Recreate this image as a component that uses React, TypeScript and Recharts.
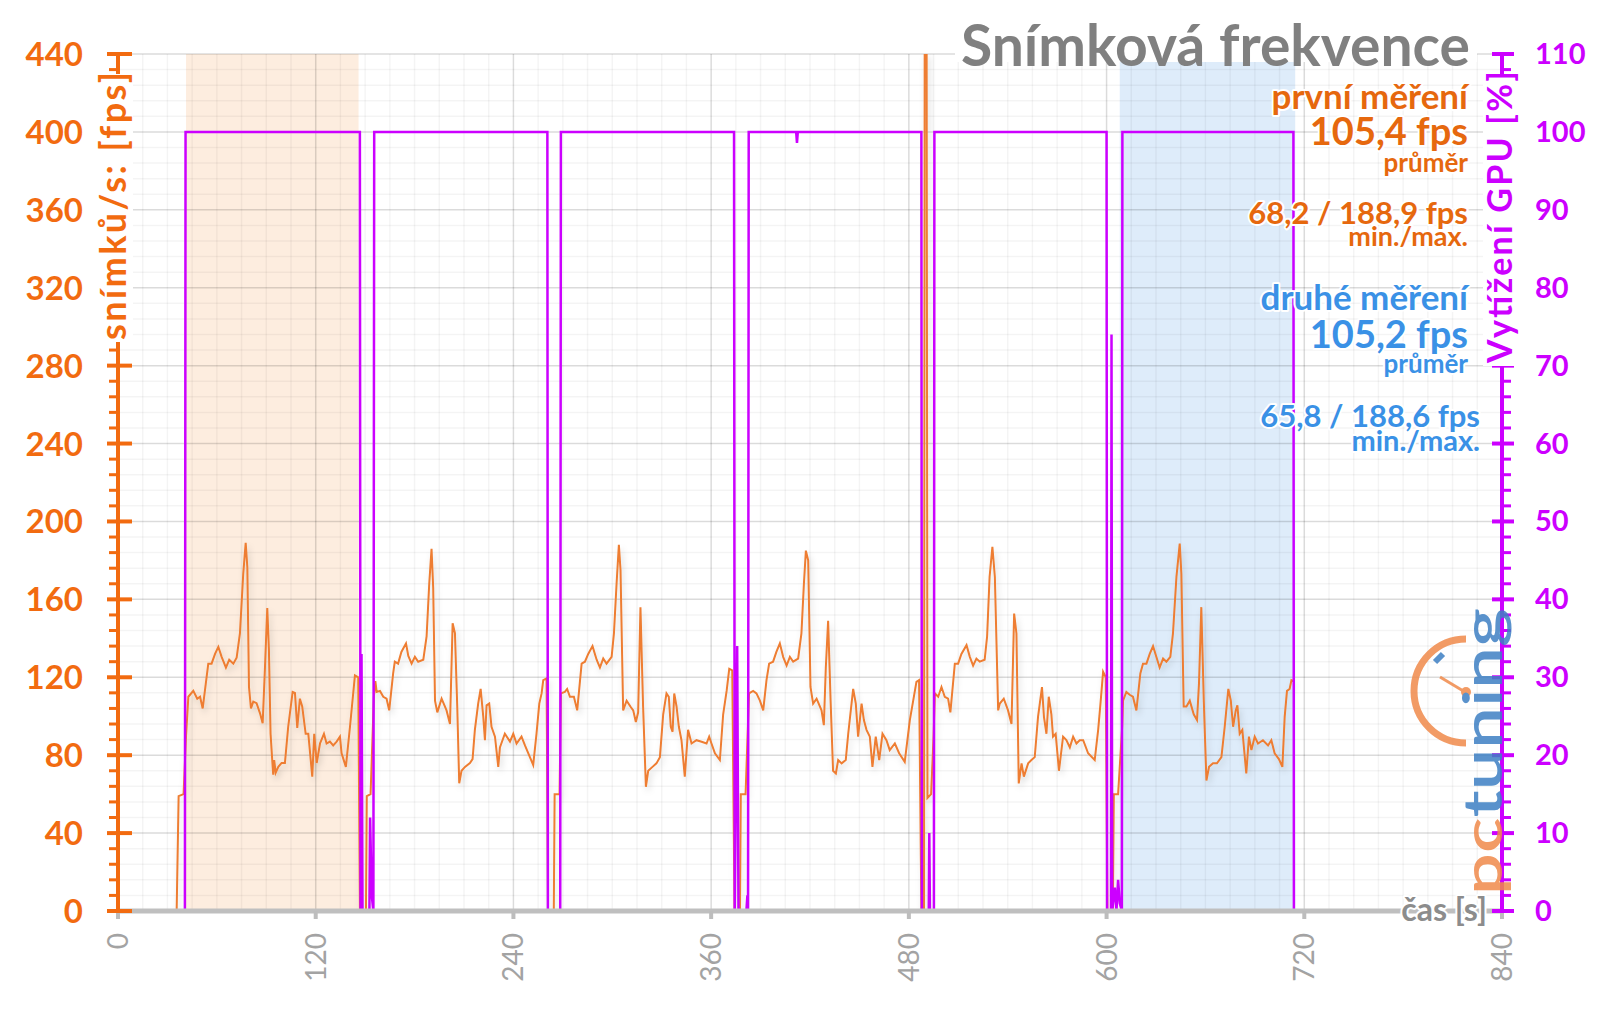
import { Line, LineChart, ReferenceArea, ReferenceLine, XAxis, YAxis } from "recharts";

const FONT = "Lato, 'Open Sans', sans-serif";
const FPS_COLOR = "#EE7D31";
const GPU_COLOR = "#CC00FF";
const AXIS_ORANGE = "#F26B10";
const TEXT_ORANGE = "#E6680E";
const TEXT_BLUE = "#3A91E6";
const GRAY_TEXT = "#8C8C8C";

// fps over time: [time s, fps]
const idleStart: [number, number][] = [[0, 0], [35.6, 0], [36.8, 59], [39.8, 60], [41.3, 90]];
const run1: [number, number][] = [
  [42.7, 110], [45.7, 113], [48.1, 109], [49.8, 110], [51.4, 104], [54.8, 127], [56.8, 127], [58.9, 132],
  [60.9, 135.6], [62.9, 130.5], [65.5, 125], [67.5, 129], [70, 127], [72, 130], [74, 142.5], [76, 173],
  [77.5, 189], [78.5, 176.5], [79.5, 115], [80.7, 104], [82.1, 107.5], [84.1, 106.7], [86.2, 101.5],
  [87.8, 96.4], [89.2, 125], [90.6, 155.5], [91.6, 134], [92.6, 91], [93.6, 77.5], [94.2, 70], [94.8, 77.5],
  [95.7, 71], [97.3, 74], [99.3, 76], [101.3, 76], [103.3, 94.6], [106, 112.5], [107.4, 112], [108.8, 94],
  [110.4, 109], [111.8, 105], [113.9, 91], [115.5, 91], [117.9, 69], [119.1, 91], [120.6, 76], [122.6, 86],
  [125, 91], [126.6, 86], [128.6, 87], [130.6, 85], [132.7, 87], [134.7, 89.5], [135.7, 81], [138.3, 74],
  [140.8, 94.6], [143.8, 121], [145.8, 120],
];
const gap1: [number, number][] = [[146.8, 0], [150.5, 0], [151, 59], [153.3, 60], [155.3, 110]];
const run2: [number, number][] = [
  [156.2, 118], [157, 112.5], [159, 113], [161, 110], [163, 109], [164.6, 103], [167, 122], [168, 128],
  [170, 127], [172, 133], [174.8, 137.4], [176.2, 131], [178.2, 127], [180.2, 130.5], [182.2, 128],
  [185.3, 129], [187.3, 141], [188.9, 168], [190.3, 186], [191.3, 166], [192.4, 108], [193.8, 102],
  [196.4, 109], [199.4, 103], [201.5, 96], [203.1, 147.7], [204.5, 142.6], [205.9, 105], [207.1, 65.6],
  [208.5, 72], [210.6, 74], [213.6, 76], [215.2, 78], [216.6, 93], [218.6, 106.5], [220.1, 114],
  [221.7, 99.7], [222.7, 87.7], [223.7, 105.6], [225.3, 106.5], [226.7, 94.6], [228.8, 89.5], [230.8, 74],
  [231.8, 84], [234.8, 91], [237.9, 87], [239.9, 91], [241.9, 86], [244.9, 89.5], [247, 85], [250, 79],
  [252, 75], [254, 91], [255.7, 106.5], [257.1, 111.7], [258.1, 118.5], [260.1, 119.4],
];
const gap2: [number, number][] = [[261, 0], [264.5, 0], [265, 60], [268, 60]];
const run3: [number, number][] = [
  [268.8, 111.7], [271.2, 112.5], [272.6, 114], [274.3, 110], [276.7, 110], [278.7, 103], [281.4, 127],
  [283.4, 128], [285.4, 132], [288, 136], [290.5, 129], [292.5, 125], [294.5, 129.6], [296.5, 127],
  [299.6, 130.5], [301, 142.5], [302.6, 168], [304, 188], [305, 175], [306.6, 103], [308.7, 108], [311, 105],
  [312.7, 103], [314.3, 97], [315.7, 102], [317.1, 156], [318.7, 105], [320.4, 63.8], [321.8, 72],
  [324.4, 74], [326.8, 75.8], [328.9, 79], [330.9, 101], [332.9, 111.7], [334.3, 110], [335.5, 94.6],
  [336.6, 92], [337.6, 111.7], [339, 105], [340.4, 94.6], [342, 87.7], [344, 69], [346, 93], [348.1, 86],
  [351.1, 87.7], [354.2, 86.9], [357.2, 86], [358.8, 89.5], [360.2, 86], [362.3, 81], [365.3, 77.5],
  [367.3, 101], [369.4, 113], [371, 124.4], [372.8, 123.6],
];
const gap3: [number, number][] = [[374.2, 0], [377.5, 0], [378, 60], [380.9, 60]];
const run4: [number, number][] = [
  [383, 111.7], [385.5, 113], [387.5, 111.7], [389.6, 108], [391.6, 103], [393.6, 118.5], [395.2, 127],
  [397.6, 128], [399.6, 133], [401.7, 137.4], [403.7, 130.5], [405.8, 126], [407.8, 130.5], [409.8, 128],
  [412.8, 129.6], [414.8, 142.5], [416.3, 168], [417.5, 185], [418.9, 180], [420.3, 115], [421.9, 106.5],
  [424, 109], [427, 103], [428.4, 95.4], [429.6, 125], [431, 149], [432.5, 108], [434, 72], [435.7, 70.6],
  [437.1, 77.5], [439.2, 75.8], [441.7, 77.5], [443.2, 91], [446.2, 114], [447.8, 106.5], [449.2, 89.5],
  [451.3, 106.5], [452.7, 98], [454.3, 93], [456.3, 89.5], [457.9, 74], [459.9, 89.5], [462, 77.5],
  [464, 91], [466.4, 87.7], [468.4, 82.6], [471.5, 86], [474.1, 81], [477.5, 76.6], [480.6, 98],
  [484.6, 117.6], [486.2, 118.5],
];
const gap4: [number, number][] = [[487.6, 0], [489.2, 0], [489.6, 440], [490.8, 440], [491.3, 58], [493.5, 60], [495, 90]];
const run5: [number, number][] = [
  [495.8, 111.7], [497.8, 110], [499.8, 115], [501.8, 110], [503.8, 109], [505.2, 102], [507.9, 127],
  [509.9, 127], [511.9, 132], [515, 136.5], [517, 130.5], [519, 126], [521, 129.6], [523, 128], [526, 129],
  [527.5, 141], [529, 171.5], [530.7, 187], [532.2, 171.5], [534.2, 103], [535.2, 106.5], [537.6, 109],
  [540.2, 103], [542.3, 96], [543.9, 152.7], [545.3, 142.5], [546.7, 65.5], [548.4, 75.8], [549.8, 69],
  [552.4, 75.8], [554.4, 77.5], [556.4, 79], [558.4, 99.7], [560.8, 115], [562, 99.7], [563.5, 91],
  [564.9, 110], [566.5, 101], [567.5, 89.5], [569.1, 91], [571.1, 72], [573.6, 89.5], [575.6, 87.7],
  [577.7, 84], [579.7, 89.5], [581.7, 86], [583.7, 87.7], [585.8, 87.7], [588.8, 81], [592.8, 77.5],
  [594.9, 93], [596.3, 106.5], [597.9, 122.8], [599.5, 120],
];
const gap5: [number, number][] = [[600.5, 0], [603.8, 0], [604.4, 60], [607, 60], [609.5, 95]];
const run6: [number, number][] = [
  [610, 108], [612, 112.5], [614, 111], [616, 110], [618.1, 103], [620.5, 122], [622.1, 127], [624.2, 127],
  [626.2, 132], [628.2, 136], [630.2, 130.5], [632.2, 125], [634.3, 129.6], [636.3, 128], [638.7, 130.5],
  [640.3, 142.5], [642.4, 171.5], [644.4, 188.6], [645.4, 173], [646.8, 105], [648.5, 105], [650.5, 108],
  [652.9, 101], [654.9, 98], [656.1, 117], [657.5, 156], [659, 108], [660.6, 67], [662.2, 74],
  [664.6, 75.8], [667, 75.8], [669.7, 79], [671.7, 94.6], [673.9, 114], [675.4, 108], [676.8, 94.6],
  [678.4, 103], [679.4, 105.6], [680.8, 91], [682.4, 93], [684.8, 70.6], [686.4, 89.5], [687.9, 82.6],
  [689.9, 89.5], [691.9, 86], [694.9, 87.7], [698, 85], [700, 87.7], [702, 81], [704.6, 78], [706.7, 74],
  [708.1, 99.7], [709.5, 113], [711.1, 114], [712.2, 118.5], [713.6, 118],
];

// GPU load [time s, %]
const gpuLoad: [number, number][] = [
  [0, 0], [40.6, 0], [41, 100], [146.8, 100], [147.2, 0], [147.8, 33], [148.4, 0], [152.6, 0], [153, 12],
  [154, 2], [155, 0], [155.5, 100], [260.6, 100], [260.9, 0], [268.4, 0], [268.8, 100], [373.9, 100],
  [374.3, 0], [375.8, 34], [376.6, 0], [381.4, 0], [382, 2], [382.4, 0], [382.8, 100], [411.6, 100],
  [412.1, 98.6], [412.6, 100], [487.6, 100], [487.9, 0], [492.1, 0], [492.4, 10], [492.8, 0], [495.2, 0],
  [495.5, 100], [600, 100], [600.3, 0], [602.7, 0], [603, 74], [603.4, 0], [605, 3], [606, 0], [607, 4],
  [608, 1], [609.3, 0], [609.6, 100], [713.4, 100], [713.7, 0], [765, 0],
];

const firstRun = [41.3, 146];
const secondRun = [608, 714.5];

const timeTicks = [0, 120, 240, 360, 480, 600, 720, 840];
const fpsMajor = [0, 40, 80, 120, 160, 200, 240, 280, 320, 360, 400, 440];
const gpuTicks = Array.from({ length: 56 }, (_, i) => i * 2);
const fpsTicks = Array.from({ length: 56 }, (_, i) => i * 8);
const timeMinor = Array.from({ length: 57 }, (_, i) => i * 15);

const fpsData = [...idleStart, ...run1, ...gap1, ...run2, ...gap2, ...run3, ...gap3, ...run4, ...gap4, ...run5, ...gap5, ...run6].map(
  ([t, fps]) => ({ t, fps })
);
const gpuData = gpuLoad.map(([t, gpu]) => ({ t, gpu }));

function FpsTick({ x, y, payload }: any) {
  const v = payload.value as number;
  const major = v % 40 === 0;
  return (
    <g>
      <line x1={x - (major ? 11 : 9)} x2={x + (major ? 14 : 0)} y1={y} y2={y} stroke={AXIS_ORANGE} strokeWidth={major ? 4 : 3} />
      {major && (
        <text x={x - 35} y={y} dy={12} textAnchor="end" fill={AXIS_ORANGE} fontSize={33} fontWeight={700} fontFamily={FONT}>
          {v}
        </text>
      )}
    </g>
  );
}

function GpuTick({ x, y, payload }: any) {
  const v = payload.value as number;
  const major = v % 10 === 0;
  return (
    <g>
      <line x1={x - (major ? 10 : 0)} x2={x + (major ? 12 : 9)} y1={y} y2={y} stroke={GPU_COLOR} strokeWidth={major ? 4 : 3} />
      {major && (
        <text x={x + 33} y={y} dy={10} textAnchor="start" fill={GPU_COLOR} fontSize={29} fontWeight={700} fontFamily={FONT}>
          {v}
        </text>
      )}
    </g>
  );
}

function TimeTick({ x, y, payload }: any) {
  return (
    <g>
      <line x1={x} x2={x} y1={y} y2={y + 8} stroke="#BDBDBD" strokeWidth={4} />
      <text
        transform={`rotate(-90 ${x} ${y + 22})`}
        x={x}
        y={y + 22}
        dy={10}
        textAnchor="end"
        fill="#A3A3A3"
        fontSize={28}
        fontFamily={FONT}
      >
        {payload.value}
      </text>
    </g>
  );
}

const halo = { stroke: "#fff", strokeWidth: 4, paintOrder: "stroke" as const, strokeLinejoin: "round" as const };

function Overlay() {
  const legend = (text: string, x: number, y: number, size: number, fill: string) => (
    <text x={x} y={y} textAnchor="end" fontSize={size} fontWeight={700} fontFamily={FONT} fill={fill} style={halo}>
      {text}
    </text>
  );
  return (
    <svg width={1600} height={1009} style={{ position: "absolute", left: 0, top: 0, pointerEvents: "none" }}>
      <defs>
        <filter id="lineShadow" x="-5%" y="-5%" width="110%" height="115%">
          <feDropShadow dx={2} dy={4} stdDeviation={3} floodColor="#000" floodOpacity={0.14} />
        </filter>
      </defs>

      <rect x={955} y={8} width={522} height={54} fill="#fff" />
      <text x={1470} y={66} textAnchor="end" fontSize={57} fontWeight={700} fontFamily={FONT} fill="#808080">
        Snímková frekvence
      </text>

      {legend("první měření", 1468, 109, 35, TEXT_ORANGE)}
      {legend("105,4 fps", 1468, 145, 38, TEXT_ORANGE)}
      {legend("průměr", 1468, 172, 26, TEXT_ORANGE)}
      {legend("68,2 / 188,9 fps", 1468, 224, 31, TEXT_ORANGE)}
      {legend("min./max.", 1468, 246, 27, TEXT_ORANGE)}
      {legend("druhé měření", 1468, 310, 35, TEXT_BLUE)}
      {legend("105,2 fps", 1468, 348, 38, TEXT_BLUE)}
      {legend("průměr", 1468, 373, 26, TEXT_BLUE)}
      {legend("65,8 / 188,6 fps", 1480, 427, 31, TEXT_BLUE)}
      {legend("min./max.", 1480, 451, 29, TEXT_BLUE)}

      <rect x={93} y={74} width={40} height={268} fill="#fff" />
      <text
        transform="rotate(-90 113 206)"
        x={113}
        y={206}
        dy={13}
        textAnchor="middle"
        fontSize={36}
        fontWeight={700}
        fontFamily={FONT}
        fill={AXIS_ORANGE}
        textLength={268}
        lengthAdjust="spacing"
      >
        snímků/s: [fps]
      </text>

      <rect x={1483} y={74} width={36} height={292} fill="#fff" />
      <text
        transform="rotate(-90 1500 217)"
        x={1500}
        y={217}
        dy={12}
        textAnchor="middle"
        fontSize={34}
        fontWeight={700}
        fontFamily={FONT}
        fill={GPU_COLOR}
        textLength={292}
        lengthAdjust="spacing"
      >
        Vytížení GPU [%]
      </text>

      <text x={1487} y={921} textAnchor="end" fontSize={32} fontWeight={700} fontFamily={FONT} fill={GRAY_TEXT} style={halo}>
        čas [s]
      </text>

      <g opacity={0.85}>
        <path d="M 1466 639 A 52 52 0 0 0 1466 743" fill="none" stroke="#F08A4B" strokeWidth={7} />
        <line x1={1435} y1={662} x2={1443} y2={654} stroke="#3E80C4" strokeWidth={6} />
        <line x1={1440} y1={677} x2={1465} y2={692} stroke="#F08A4B" strokeWidth={3} />
        <circle cx={1466} cy={692} r={5} fill="#F08A4B" />
        <text
          transform="rotate(-90 1502 895)"
          x={1502}
          y={895}
          fontSize={54}
          fontWeight={600}
          fontFamily={FONT}
          textLength={287}
          lengthAdjust="spacingAndGlyphs"
        >
          <tspan fill="#F08A4B">pc</tspan>
          <tspan fill="#3E80C4">tuning</tspan>
        </text>
      </g>
    </svg>
  );
}

export default function App() {
  return (
    <div style={{ position: "absolute", left: 0, top: 0, width: 1600, height: 1009, background: "#fff", fontFamily: FONT }}>
      <LineChart width={1600} height={1009} margin={{ top: 54, right: 20, bottom: 20, left: 20 }}>
        <XAxis
          dataKey="t"
          type="number"
          domain={[0, 840]}
          ticks={timeTicks}
          interval={0}
          tickSize={0}
          tickMargin={0}
          height={78}
          allowDataOverflow
          axisLine={{ stroke: "#BFBFBF", strokeWidth: 5 }}
          tickLine={false}
          tick={(p: any) => <TimeTick {...p} />}
        />
        <YAxis
          yAxisId="fps"
          type="number"
          domain={[0, 440]}
          ticks={fpsTicks}
          interval={0}
          tickSize={0}
          tickMargin={0}
          width={98}
          allowDataOverflow
          axisLine={{ stroke: AXIS_ORANGE, strokeWidth: 4 }}
          tickLine={false}
          tick={(p: any) => <FpsTick {...p} />}
        />
        <YAxis
          yAxisId="gpu"
          orientation="right"
          type="number"
          domain={[0, 110]}
          ticks={gpuTicks}
          interval={0}
          tickSize={0}
          tickMargin={0}
          width={78}
          allowDataOverflow
          axisLine={{ stroke: GPU_COLOR, strokeWidth: 4 }}
          tickLine={false}
          tick={(p: any) => <GpuTick {...p} />}
        />

        <ReferenceArea yAxisId="fps" x1={firstRun[0]} x2={firstRun[1]} y1={0} y2={440} fill="#FDEDDF" fillOpacity={1} stroke="none" />
        <ReferenceArea yAxisId="fps" x1={secondRun[0]} x2={secondRun[1]} y1={0} y2={440} fill="#DEECFA" fillOpacity={1} stroke="none" />

        {timeMinor.map((v) => (
          <ReferenceLine key={`vx${v}`} yAxisId="fps" x={v} stroke="rgba(0,0,0,0.045)" strokeWidth={1.5} />
        ))}
        {fpsTicks.map((v) => (
          <ReferenceLine key={`hy${v}`} yAxisId="fps" y={v} stroke="rgba(0,0,0,0.045)" strokeWidth={1.5} />
        ))}
        {timeTicks.map((v) => (
          <ReferenceLine key={`VX${v}`} yAxisId="fps" x={v} stroke="rgba(0,0,0,0.1)" strokeWidth={1.5} />
        ))}
        {fpsMajor.map((v) => (
          <ReferenceLine key={`HY${v}`} yAxisId="fps" y={v} stroke="rgba(0,0,0,0.1)" strokeWidth={1.5} />
        ))}

        <Line
          yAxisId="fps"
          data={fpsData}
          dataKey="fps"
          type="linear"
          stroke={FPS_COLOR}
          strokeWidth={2}
          dot={false}
          activeDot={false}
          isAnimationActive={false}
          filter="url(#lineShadow)"
        />
        <Line
          yAxisId="gpu"
          data={gpuData}
          dataKey="gpu"
          type="linear"
          stroke={GPU_COLOR}
          strokeWidth={2.5}
          dot={false}
          activeDot={false}
          isAnimationActive={false}
        />
      </LineChart>
      <Overlay />
    </div>
  );
}
